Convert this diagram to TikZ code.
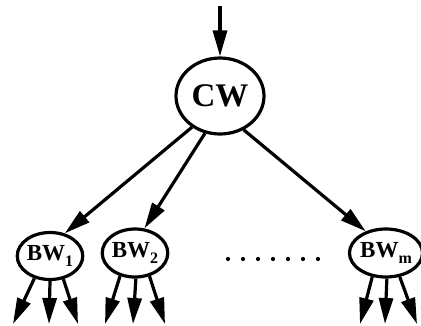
\documentclass[tikz,border=0pt]{standalone}
\usepackage{fontspec}
\setmainfont{Liberation Serif}
\usetikzlibrary{arrows.meta,shapes.geometric}
\newcommand{\subidx}[1]{\raisebox{-0.3em}{\fontsize{16}{16}\selectfont #1}}
\begin{document}
\begin{tikzpicture}[x=1pt,y=-1pt,
  wnode/.style={draw,ellipse,line width=3.2pt,inner sep=0pt,font=\bfseries},
  arr/.style={line width=3.2pt,-{Triangle[length=26pt,width=14pt]}},
  dotmark/.style={fill,circle,inner sep=0pt,minimum size=4.2pt}]
\useasboundingbox (0,0) rectangle (421,325);
\node[wnode,minimum width=88pt,minimum height=76pt,font=\bfseries\fontsize{33}{33}\selectfont] (cw) at (220,96) {CW};
\node[wnode,minimum width=64pt,minimum height=47pt,font=\bfseries\fontsize{23}{23}\selectfont] (bw1) at (50,256) {BW\subidx{1}};
\node[wnode,minimum width=64pt,minimum height=48pt,font=\bfseries\fontsize{23}{23}\selectfont] (bw2) at (135,253) {BW\subidx{2}};
\node[wnode,minimum width=61pt,minimum height=48pt,font=\bfseries\fontsize{23}{23}\selectfont] (bwm) at (386,253) {BW\subidx{m}};
\coordinate (in) at (220,6);
\draw[arr] (in) -- (cw.north);
\draw[arr] (cw.228) -- (bw1.57);
\draw[arr] (cw.248) -- (bw2.69);
\draw[arr] (cw.305) -- (bwm.133);
\coordinate (a1) at (13,324); \coordinate (a2) at (49,324); \coordinate (a3) at (78,324);
\coordinate (b1) at (105,324); \coordinate (b2) at (133,324); \coordinate (b3) at (165,324);
\coordinate (c1) at (360,324); \coordinate (c2) at (385,324); \coordinate (c3) at (417,324);
\draw[arr] (bw1.235) -- (a1);
\draw[arr] (bw1.270) -- (a2);
\draw[arr] (bw1.300) -- (a3);
\draw[arr] (bw2.237) -- (b1);
\draw[arr] (bw2.272) -- (b2);
\draw[arr] (bw2.302) -- (b3);
\draw[arr] (bwm.240) -- (c1);
\draw[arr] (bwm.272) -- (c2);
\draw[arr] (bwm.300) -- (c3);
\foreach \i [count=\k] in {228,243,258,273,288,303,318}
  \node[dotmark] (d\k) at (\i,259) {};
\end{tikzpicture}
\end{document}
